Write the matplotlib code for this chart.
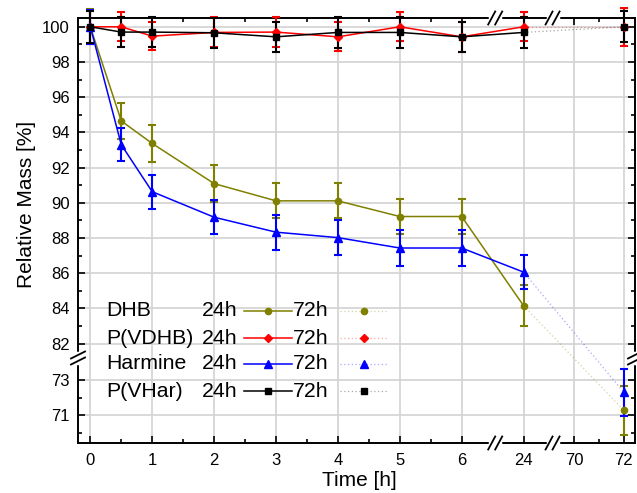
import numpy as np
import matplotlib
matplotlib.use('Agg')
import matplotlib.pyplot as plt
from matplotlib.ticker import FixedLocator

plt.rcParams['font.family'] = ['Liberation Sans', 'DejaVu Sans']

# relative mass [%] vs time [h]
time_h = [0, 0.5, 1, 2, 3, 4, 5, 6, 24, 72]
dhb = [100, 94.65, 93.37, 91.09, 90.11, 90.11, 89.22, 89.22, 84.15, 71.28]
dhb_err = [1.0, 1.0, 1.03, 1.03, 1.0, 1.0, 1.0, 1.0, 1.15, 1.4]
pvdhb = [100, 100, 99.47, 99.68, 99.7, 99.43, 100, 99.43, 100, 100]
pvdhb_err = [0.95, 0.83, 0.8, 0.85, 0.85, 0.82, 0.83, 0.86, 0.83, 1.07]
harmine = [100, 93.3, 90.63, 89.18, 88.33, 88.02, 87.43, 87.43, 86.06, 72.31]
harmine_err = [0.95, 0.93, 0.97, 0.96, 1.0, 1.0, 1.0, 1.0, 0.95, 1.35]
pvhar = [100, 99.7, 99.7, 99.66, 99.43, 99.68, 99.68, 99.43, 99.68, 100]
pvhar_err = [0.9, 0.84, 0.87, 0.85, 0.86, 0.86, 0.86, 0.86, 0.86, 0.87]

names = ['DHB', 'P(VDHB)', 'Harmine', 'P(VHar)']
colors = ['#808000', '#ff0000', '#0000ff', '#000000']
markers = ['o', 'D', '^', 's']
msizes = [4.5, 4, 5.5, 5]
series = [(dhb, dhb_err), (pvdhb, pvdhb_err), (harmine, harmine_err), (pvhar, pvhar_err)]

x_major = [0, 1, 2, 3, 4, 5, 6, 24, 70, 72]
x_minor = [0.5, 1.5, 2.5, 3.5, 4.5, 5.5, 71]
y_major = [71, 73, 82, 84, 86, 88, 90, 92, 94, 96, 98, 100]
y_minor = [70, 72, 83, 85, 87, 89, 91, 93, 95, 97, 99]

# broken axes as piecewise linear scales
xk = [-50, 6.5, 24, 70, 72, 500]
xu = [-50, 6.5, 7.0, 7.82, 8.62, 8.62 + 428 * 0.4]
yk = [0, 74.13, 81.1, 200]
yu = [6.92, 81.05, 81.1, 200]


def x_fwd(t):
    return np.interp(t, xk, xu)


def x_inv(u):
    return np.interp(u, xu, xk)


def y_fwd(v):
    return np.interp(v, yk, yu)


def y_inv(u):
    return np.interp(u, yu, yk)


def no_clip(container):
    for art in container.get_children():
        art.set_clip_on(False)


fig = plt.figure(figsize=(6.37, 4.93), dpi=100)
ax = fig.add_axes([78 / 637, 50 / 493, 557 / 637, 425 / 493])
ax.set_xscale('function', functions=(x_fwd, x_inv))
ax.set_yscale('function', functions=(y_fwd, y_inv))

ax.xaxis.set_major_locator(FixedLocator(x_major))
ax.xaxis.set_minor_locator(FixedLocator(x_minor))
ax.yaxis.set_major_locator(FixedLocator(y_major))
ax.yaxis.set_minor_locator(FixedLocator(y_minor))
ax.set_xticklabels([str(v) for v in x_major])
ax.set_yticklabels([str(v) for v in y_major])
ax.yaxis.set_minor_formatter(plt.NullFormatter())
ax.xaxis.set_minor_formatter(plt.NullFormatter())

ax.grid(True, which='major', color='#d2d2d2', lw=1.2, zorder=0)
ax.set_axisbelow(True)

n24 = time_h.index(24)
for (vals, errs), c, m, ms in zip(series, colors, markers, msizes):
    # solid part 0..24 h
    eb = ax.errorbar(time_h[:n24 + 1], vals[:n24 + 1], yerr=errs[:n24 + 1], color=c,
                     marker=m, ms=ms, lw=1.1, elinewidth=1.5, capsize=3, capthick=1.5, zorder=3)
    no_clip(eb)
    # dotted link to 72 h
    ax.plot(time_h[n24:], vals[n24:], color=c, ls=(0, (1, 2)), lw=0.9, alpha=0.35, zorder=2)
    eb = ax.errorbar(time_h[n24 + 1:], vals[n24 + 1:], yerr=errs[n24 + 1:], color=c,
                     marker=m, ms=ms, ls='none', elinewidth=1.5, capsize=3, capthick=1.5, zorder=3)
    no_clip(eb)

ax.set_xlim(-0.199, 72.45)
ax.set_ylim(69.43, 100.5)

ax.tick_params(which='both', direction='in', top=True, right=True, width=1.2, labelsize=12)
ax.tick_params(which='major', length=5)
ax.tick_params(which='minor', length=2.7)
ax.tick_params(axis='x', pad=7)
ax.tick_params(axis='y', pad=6)
for s in ax.spines.values():
    s.set_linewidth(1.4)

ax.text(0.505, -0.089, 'Time [h]', transform=ax.transAxes, ha='center', va='center', fontsize=15)
ax.text(-0.0916, 0.562, 'Relative Mass [%]', transform=ax.transAxes, ha='center', va='center',
        rotation=90, fontsize=15)

# hand-made legend
rows = [0.311, 0.247, 0.186, 0.122]
for name, c, m, ms, ry in zip(names, colors, markers, msizes, rows):
    ax.text(0.0503, ry, name, transform=ax.transAxes, ha='left', va='center', fontsize=15.3)
    ax.text(0.2855, ry, '24h', transform=ax.transAxes, ha='right', va='center', fontsize=15.3)
    ax.plot([0.298, 0.384], [ry, ry], transform=ax.transAxes, color=c, lw=1.1, clip_on=False)
    ax.plot([0.341], [ry], transform=ax.transAxes, color=c, marker=m, ms=ms, clip_on=False)
    ax.text(0.386, ry, '72h', transform=ax.transAxes, ha='left', va='center', fontsize=15.3)
    ax.plot([0.470, 0.555], [ry, ry], transform=ax.transAxes, color=c, ls=(0, (1, 2)),
            lw=0.9, alpha=0.35, clip_on=False)
    ax.plot([0.513], [ry], transform=ax.transAxes, color=c, marker=m, ms=ms, clip_on=False)

# break marks
px = 1 / 557
py = 1 / 425
for xf in [0.749, 0.852]:
    for yf in [0, 1]:
        ax.plot([xf - 5 * px, xf + 5 * px], [yf, yf], transform=ax.transAxes, color='white',
                lw=2.5, clip_on=False, zorder=5)
        for c0 in [xf - 3.5 * px, xf + 3.5 * px]:
            ax.plot([c0 - 3.5 * px, c0 + 3.5 * px], [yf - 6.5 * py, yf + 6.5 * py],
                    transform=ax.transAxes, color='black', lw=1.3, clip_on=False, zorder=6)
for xf in [0, 1]:
    yf = 0.2
    ax.plot([xf, xf], [yf - 5 * py, yf + 5 * py], transform=ax.transAxes, color='white',
            lw=2.5, clip_on=False, zorder=5)
    for c0 in [yf - 3 * py, yf + 3 * py]:
        ax.plot([xf - 7 * px, xf + 7 * px], [c0 - 3.5 * py, c0 + 3.5 * py],
                transform=ax.transAxes, color='black', lw=1.3, clip_on=False, zorder=6)

fig.savefig('out.png', dpi=100)
